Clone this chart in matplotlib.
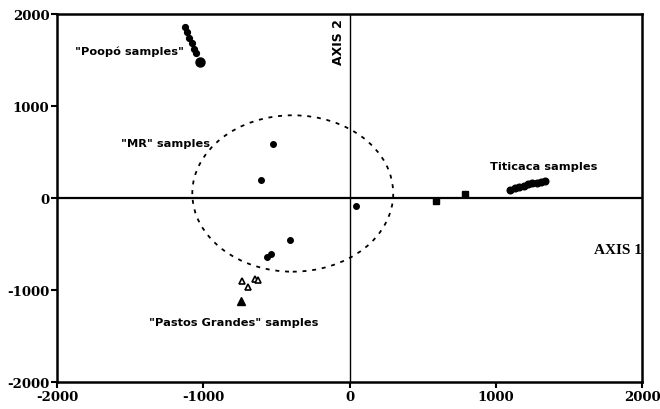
import matplotlib
matplotlib.use("Agg")
import matplotlib.pyplot as plt
from matplotlib.patches import Ellipse

# --- data ---
poopo_x = [-1125, -1110, -1095, -1080, -1065, -1050]
poopo_y = [1858, 1800, 1740, 1680, 1620, 1575]
poopo_big_x = [-1022]
poopo_big_y = [1477]

mr_x = [-523, -607, 42, -407, -562, -540]
mr_y = [583, 191, -89, -460, -641, -612]

pg_open_x = [-737, -692, -646, -624]
pg_open_y = [-907, -972, -881, -888]
pg_fill_x = [-744]
pg_fill_y = [-1117]

mid_x = [591, 790]
mid_y = [-35, 38]

titi_x = [1100, 1130, 1160, 1190, 1220, 1250, 1280, 1310, 1335]
titi_y = [90, 110, 122, 135, 148, 158, 168, 178, 190]

ellipse_center = (-388, 49)
ellipse_w = 1374
ellipse_h = 1700

ticks = [-2000, -1000, 0, 1000, 2000]
tick_labels = ["-2000", "-1000", "0", "1000", "2000"]

fig = plt.figure(figsize=(6.6, 4.1), dpi=100)
ax = fig.add_axes([0.0864, 0.0659, 0.8863, 0.8975])
ax.set_xlim(-2000, 2000)
ax.set_ylim(-2000, 2000)

for s in ax.spines.values():
    s.set_linewidth(1.8)

ax.axhline(0, color="black", lw=1.6)
ax.axvline(0, color="black", lw=1.0)

ax.plot(poopo_x, poopo_y, "o", color="black", ms=4.2)
ax.plot(poopo_big_x, poopo_big_y, "o", color="black", ms=6.5)
ax.plot(mr_x, mr_y, "o", color="black", ms=4)
ax.plot(pg_open_x, pg_open_y, "^", mfc="white", mec="black", mew=1.2, ms=5)
ax.plot(pg_fill_x, pg_fill_y, "^", color="black", ms=5.5)
ax.plot(mid_x, mid_y, "s", color="black", ms=4)
ax.plot(titi_x, titi_y, "o", color="black", ms=4.8)

ax.add_patch(Ellipse(ellipse_center, ellipse_w, ellipse_h, fill=False,
                     ls=(0, (2.2, 3.2)), lw=1.3, color="black"))

sans = dict(family="DejaVu Sans", fontweight="bold", fontsize=8.2)
ax.text(-1880, 1600, '"Poopó samples"', ha="left", va="center", **sans)
ax.text(-1560, 600, '"MR" samples', ha="left", va="center", **sans)
ax.text(960, 350, 'Titicaca samples', ha="left", va="center", **sans)
ax.text(-1370, -1350, '"Pastos Grandes" samples', ha="left", va="center", **sans)

serif = dict(family="Liberation Serif", fontweight="bold", fontsize=11)
ax.text(2000, -560, "AXIS 1", ha="right", va="center", **serif)
ax.text(-30, 1960, "AXIS 2", ha="right", va="top", rotation=90,
        family="DejaVu Sans", fontweight="bold", fontsize=9)

ax.set_xticks(ticks)
ax.set_xticklabels(tick_labels)
ax.set_yticks(ticks)
ax.set_yticklabels(tick_labels)
ax.tick_params(direction="out", length=4, width=1.5, pad=1.5)
for lab in ax.get_xticklabels() + ax.get_yticklabels():
    lab.set_family("DejaVu Serif")
    lab.set_fontweight("bold")
    lab.set_fontsize(9.5)

fig.savefig("out.png", dpi=100)
